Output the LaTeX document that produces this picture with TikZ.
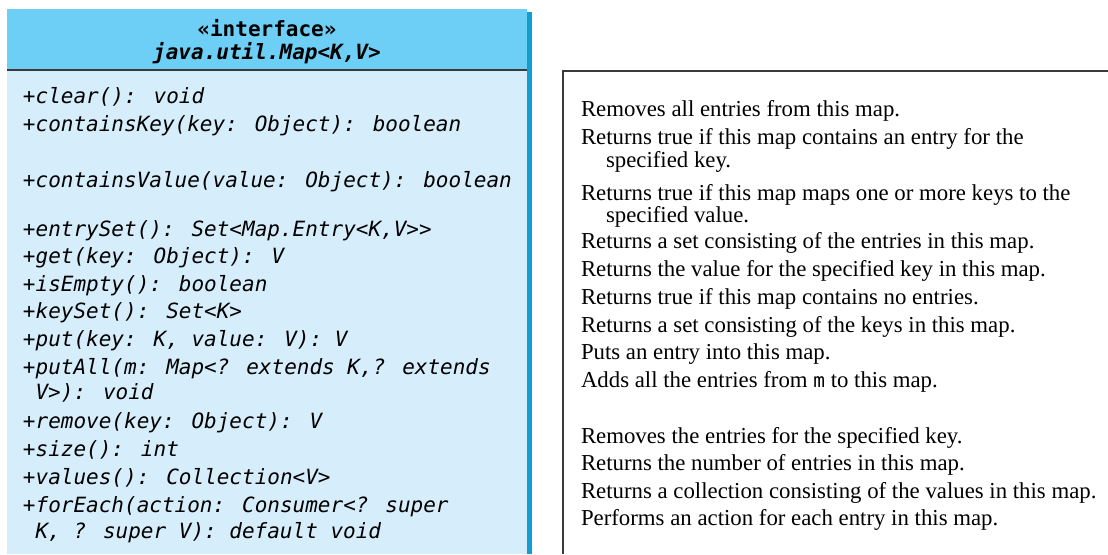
\documentclass[tikz,border=0pt]{standalone}
\usepackage{fontspec}
\setmainfont{Liberation Serif}
\newfontfamily\umlfont{DejaVu Sans Mono}
\usepackage{xcolor}
\definecolor{headblue}{HTML}{6DCFF6}
\definecolor{bodyblue}{HTML}{D6EEFB}
\definecolor{edgeblue}{HTML}{109FD0}
\definecolor{rulegray}{HTML}{3A3A3A}

\begin{document}
\begin{tikzpicture}[x=0.5pt, y=-0.5pt, every node/.style={inner sep=0pt, outer sep=0pt},
  member/.style={anchor=base west, font=\umlfont\itshape\fontsize{10.5}{12}\selectfont},
  title/.style={anchor=base, font=\umlfont\bfseries\fontsize{10.5}{12}\selectfont},
  note/.style={anchor=base west, font=\fontsize{11.4}{13}\selectfont}]

\useasboundingbox (0,0) rectangle (1108,554);

% Interface box
\fill[edgeblue] (527,12) rectangle (532,554);
\fill[headblue] (7,9) rectangle (527,70);
\fill[bodyblue] (7,70) rectangle (527,554);
\draw[rulegray, line width=0.8pt] (7,70) -- (527,70);

\node[title] (iface) at (267,36.5) {«interface»};
\node[title, font=\umlfont\bfseries\itshape\fontsize{10.5}{12}\selectfont] (mapname) at (267,59) {java.util.Map<K,V>};

\node[member] (clear) at (23,103.5) {+clear(): void};
\node[member] (ckey) at (23,131.5) {+containsKey(key: Object): boolean};
\node[member] (cvalue) at (23,187.5) {+containsValue(value: Object): boolean};
\node[member] (entries) at (23,236.5) {+entrySet(): Set<Map.Entry<K,V>{}>};
\node[member] (get) at (23,263.5) {+get(key: Object): V};
\node[member] (isempty) at (23,291.5) {+isEmpty(): boolean};
\node[member] (keyset) at (23,318.5) {+keySet(): Set<K>};
\node[member] (put) at (23,346.5) {+put(key: K, value: V): V};
\node[member] (putall) at (23,374.5) {+putAll(m: Map<? extends K,? extends};
\node[member] (putall2) at (35.6,399.5) {V>): void};
\node[member] (remove) at (23,428.5) {+remove(key: Object): V};
\node[member] (size) at (23,456.5) {+size(): int};
\node[member] (values) at (23,484.5) {+values(): Collection<V>};
\node[member] (foreach) at (23,512.5) {+forEach(action: Consumer<? super};
\node[member] (foreach2) at (35.6,538.5) {K, ? super V): default void};

% Description box
\draw[rulegray, line width=0.75pt] (1108,71) -- (563,71) -- (563,554);

\node[note] (dclear) at (581,116) {Removes all entries from this map.};
\node[note] (dckey) at (581,144) {Returns true if this map contains an entry for the};
\node[note] (dckey2) at (606,167) {specified key.};
\node[note] (dcvalue) at (581,200) {Returns true if this map maps one or more keys to the};
\node[note] (dcvalue2) at (606,222) {specified value.};
\node[note] (dentries) at (581,248) {Returns a set consisting of the entries in this map.};
\node[note] (dget) at (581,276) {Returns the value for the specified key in this map.};
\node[note] (disempty) at (581,304) {Returns true if this map contains no entries.};
\node[note] (dkeyset) at (581,332) {Returns a set consisting of the keys in this map.};
\node[note] (dput) at (581,359) {Puts an entry into this map.};
\node[note] (dputall) at (581,387) {Adds all the entries from {\umlfont\fontsize{9.7}{12}\selectfont m} to this map.};
\node[note] (dremove) at (581,443) {Removes the entries for the specified key.};
\node[note] (dsize) at (581,470) {Returns the number of entries in this map.};
\node[note] (dvalues) at (581,498) {Returns a collection consisting of the values in this map.};
\node[note] (dforeach) at (581,525) {Performs an action for each entry in this map.};

\end{tikzpicture}
\end{document}
